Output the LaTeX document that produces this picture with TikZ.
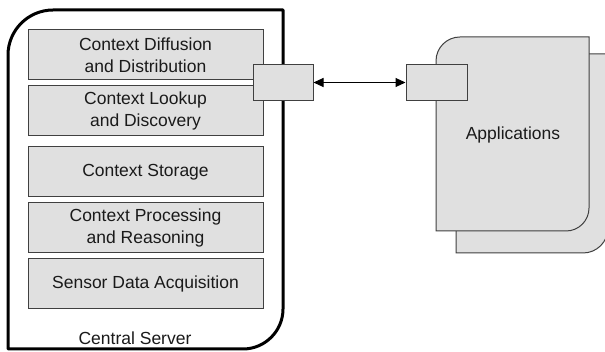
\documentclass[tikz,border=0pt]{standalone}
\usepackage{fontspec}
\setmainfont{Liberation Sans}
\usetikzlibrary{arrows.meta}
\definecolor{boxfill}{HTML}{E0E0E0}
\definecolor{boxline}{HTML}{404040}
\definecolor{txt}{HTML}{1A1A1A}
\begin{document}
\begin{tikzpicture}[x=1pt,y=-1pt,
  layer/.style={draw=boxline,fill=boxfill,line width=1pt,minimum width=235pt,minimum height=50pt,
    inner sep=0pt,align=center,text=txt,font=\fontsize{17.5}{22}\selectfont},
  port/.style={draw=boxline,fill=boxfill,line width=1pt,minimum width=60pt,minimum height=36pt,inner sep=0pt},
  card/.style={draw=boxline,fill=boxfill,line width=1pt},
  label/.style={text=txt,font=\fontsize{17.5}{22}\selectfont,inner sep=0pt}]
\useasboundingbox (0,0) rectangle (605,352);
\fill[white] (0,0) rectangle (605,352);

% central server outline
\draw[line width=3pt,line join=round]
  (8,349) -- (8,55) .. controls (8,30.25) and (28.25,10) .. (53,10)
  -- (283,10) -- (283,309) .. controls (283,331) and (265,349) .. (243,349) -- cycle;

% layers
\node[layer] (diff) at (145.5,55) {Context Diffusion\\and Distribution};
\node[layer] (look) at (145.5,111) {Context Lookup\\and Discovery};
\node[layer] (stor) at (145.5,172) {Context Storage};
\node[layer] (proc) at (145.5,228) {Context Processing\\and Reasoning};
\node[layer] (sens) at (145.5,284) {Sensor Data Acquisition};
\node[label,anchor=base] (srv) at (135,345) {Central Server};

% applications (stacked cards)
\draw[card] (456,253) -- (456,78) .. controls (456,64.7) and (466.7,54) .. (480,54)
  -- (608,54) -- (608,228) .. controls (608,241.8) and (596.8,253) .. (583,253) -- cycle;
\draw[card] (436,231) -- (436,61) .. controls (436,47.7) and (446.7,37) .. (460,37)
  -- (589,37) -- (589,208) .. controls (589,220.7) and (578.7,231) .. (566,231) -- cycle;
\node[label] (apps) at (513,135) {Applications};

% interface ports and link
\node[port] (sport) at (283,82.5) {};
\node[port,minimum width=61pt] (aport) at (436.5,82.5) {};
\draw[line width=1pt,{Triangle[length=10pt,width=9pt]}-{Triangle[length=10pt,width=9pt]}]
  (sport.east) -- (aport.west);
\end{tikzpicture}
\end{document}
